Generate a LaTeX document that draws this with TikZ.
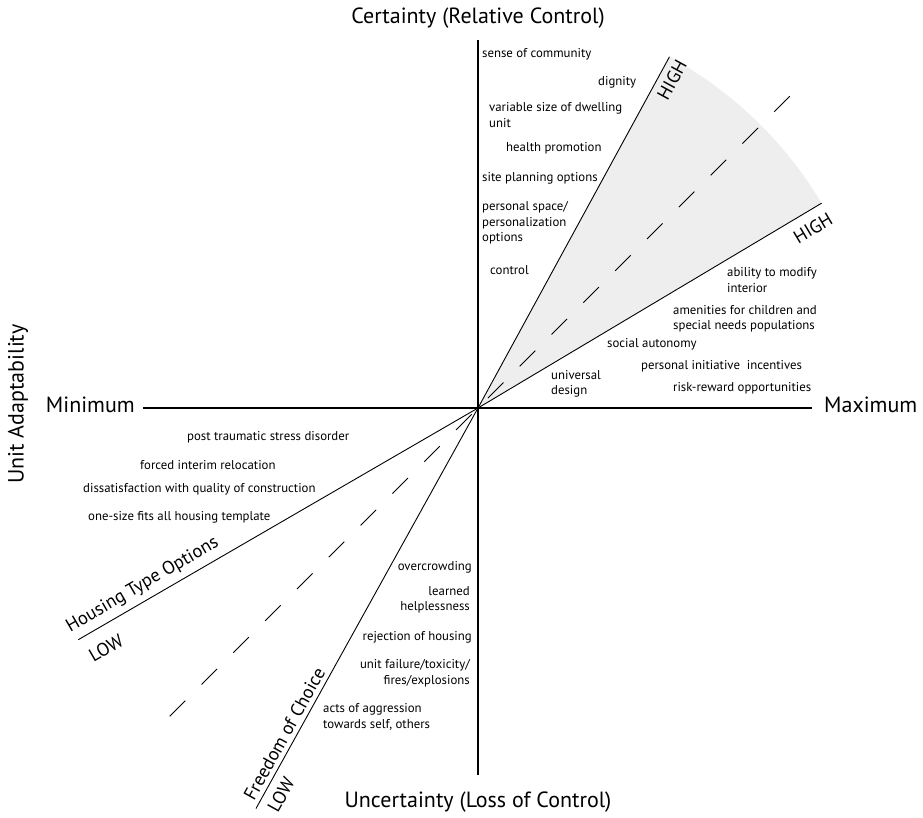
\documentclass[tikz,border=0pt]{standalone}
\usepackage{fontspec}
\setmainfont{PT Sans}
\begin{document}
\begin{tikzpicture}[x=1pt, y=1pt, font=\fontsize{12.8}{15.5}\selectfont,
	item/.style={align=left, anchor=west, inner sep=0pt},
	itemr/.style={align=right, anchor=east, inner sep=0pt},
	axislabel/.style={font=\fontsize{22}{26}\selectfont, inner sep=0pt},
	tag/.style={font=\fontsize{18.5}{21}\selectfont, inner sep=0pt}]
	\useasboundingbox (-478, -410) rectangle (445, 408);
	% Reference points:
	\coordinate (O) at (0, 0);
	\coordinate (T) at (0, 368);
	\coordinate (B) at (0, -367);
	\coordinate (L) at (-335, 0);
	\coordinate (R) at (334, 0);
	\coordinate (H1) at (61.4:400);
	\coordinate (H2) at (30.8:400);
	\coordinate (W1) at (210.1:462);
	\coordinate (W2) at (241:458);
	\coordinate (D1) at (225:436);
	\coordinate (D2) at (45:442);
	% Shaded sector and lines:
	\fill[gray!13] (O) -- (H1) arc[start angle=61.4, end angle=30.8, radius=400] -- cycle;
	\draw[line width=1.1pt] (B) -- (T);
	\draw[line width=1.1pt] (L) -- (R);
	\draw[line width=0.9pt] (O) -- (H1);
	\draw[line width=0.9pt] (O) -- (H2);
	\draw[line width=0.9pt] (W1) -- (O);
	\draw[line width=0.9pt] (W2) -- (O);
	\draw[line width=0.9pt, dash pattern=on 22pt off 23pt] (D1) -- (D2);
	% Axis titles:
	\node[axislabel] (top) at (0, 390) {Certainty (Relative Control)};
	\node[axislabel] (bottom) at (0, -394) {Uncertainty (Loss of Control)};
	\node[axislabel, anchor=east] (min) at (-343, 3) {Minimum};
	\node[axislabel, anchor=west] (max) at (346, 3) {Maximum};
	\node[axislabel, rotate=90] (unit) at (-460, 4) {Unit Adaptability};
	% Line tags:
	\node[tag, rotate=61.4] (high1) at (194, 328) {HIGH};
	\node[tag, rotate=30.8] (high2) at (335, 180) {HIGH};
	\node[tag, rotate=30.1, anchor=base] (housing) at (-333, -181) {Housing Type Options};
	\node[tag, rotate=30.1] (low1) at (-372, -240) {LOW};
	\node[tag, rotate=61, anchor=base] (freedom) at (-188, -329) {Freedom of Choice};
	\node[tag, rotate=61] (low2) at (-197, -387) {LOW};
	% Upper half:
	\node[item] (community) at (4, 354) {sense of community};
	\node[item] (dignity) at (120, 326) {dignity};
	\node[item] (dwelling) at (11, 293) {variable size of dwelling\\unit};
	\node[item] (health) at (28, 260) {health promotion};
	\node[item] (site) at (4, 230) {site planning options};
	\node[item] (personal) at (4, 185) {personal space/\\personalization\\options};
	\node[item] (control) at (12, 138) {control};
	\node[item] (modify) at (249, 128) {ability to modify\\interior};
	\node[item] (amenities) at (195, 89) {amenities for children and\\special needs populations};
	\node[item] (autonomy) at (129, 64) {social autonomy};
	\node[item] (initiative) at (163, 42) {personal initiative\ \ incentives};
	\node[item] (design) at (73, 24) {universal\\design};
	\node[item] (risk) at (195, 20) {risk-reward opportunities};
	% Lower half:
	\node[item] (ptsd) at (-291, -29) {post traumatic stress disorder};
	\node[item] (relocation) at (-338, -57) {forced interim relocation};
	\node[item] (quality) at (-395, -81) {dissatisfaction with quality of construction};
	\node[item] (template) at (-390, -109) {one-size fits all housing template};
	\node[itemr] (crowding) at (-6, -159) {overcrowding};
	\node[itemr] (helpless) at (-8, -192) {learned\\helplessness};
	\node[itemr] (rejection) at (-6, -229) {rejection of housing};
	\node[itemr] (failure) at (-8, -265) {unit failure/toxicity/\\fires/explosions};
	\node[item] (aggression) at (-155, -309) {acts of aggression\\towards self, others};
\end{tikzpicture}
\end{document}
